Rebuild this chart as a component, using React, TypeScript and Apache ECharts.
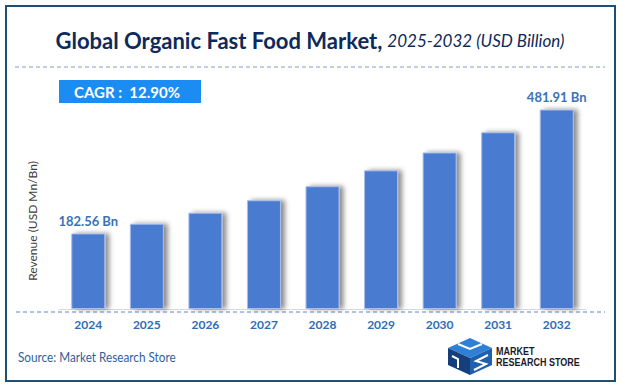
import React, { useEffect, useRef } from "react";
import * as echarts from "echarts";

const years = ["2024", "2025", "2026", "2027", "2028", "2029", "2030", "2031", "2032"];
const revenue = [182.56, 206.11, 232.7, 262.72, 296.61, 334.87, 378.07, 426.84, 481.91];
const titleMain = "Global Organic Fast Food Market,";
const titleSub = "2025-2032 (USD Billion)";
const cagrText = "CAGR :  12.90%";
const yAxisName = "Revenue (USD Mn/Bn)";
const sourceText = "Source: Market Research Store";

export default function App() {
  const ref = useRef<HTMLDivElement>(null);
  useEffect(() => {
    document.body.style.margin = "0";
    const chart = echarts.init(ref.current!, null, { renderer: "svg" });
    const last = revenue.length - 1;
    const font = "Lato, 'Open Sans', sans-serif";
    const logoFont = "'Liberation Sans', Arial, sans-serif";
    chart.setOption({
      animation: false,
      backgroundColor: "#ffffff",
      grid: { left: 59, right: 39, top: 102, bottom: 82 },
      xAxis: {
        type: "category",
        data: years,
        axisLine: { show: true, lineStyle: { color: "#d9d9d9", width: 1 } },
        axisTick: { show: false },
        axisLabel: { color: "#2e6db5", fontWeight: "bold", fontSize: 12, fontFamily: font, margin: 9 },
      },
      yAxis: {
        type: "value",
        min: 0,
        max: 500,
        show: false,
        splitLine: { show: false },
      },
      series: [
        {
          type: "bar",
          barWidth: 34,
          data: revenue.map((v, i) => ({
            value: v,
            label: { show: i === 0 || i === last },
          })),
          itemStyle: {
            color: "#4a7bd1",
            borderColor: "#a7bde8",
            borderWidth: 1,
            shadowColor: "rgba(0,0,0,0.45)",
            shadowBlur: 5,
            shadowOffsetX: 4,
            shadowOffsetY: 0,
          },
          label: {
            position: "top",
            distance: 6,
            color: "#3a72b8",
            fontWeight: "bold",
            fontSize: 13,
            fontFamily: font,
            formatter: (p: any) => `${Number(p.value).toFixed(2)} Bn`,
          },
        },
      ],
      graphic: [
        {
          type: "rect",
          shape: { x: 6, y: 6, width: 609, height: 375 },
          style: { fill: "none", stroke: "#1f4e79", lineWidth: 2 },
          silent: true,
        },
        {
          type: "text",
          x: 310,
          y: 40,
          style: {
            text: `{a|${titleMain}}{g| }{b|${titleSub}}`,
            align: "center",
            verticalAlign: "middle",
            rich: {
              a: { fontFamily: font, fontWeight: "bold", fontSize: 22, fill: "#0e2a5a" },
              g: { fontSize: 12, width: 5 },
              b: { fontFamily: font, fontStyle: "italic", fontSize: 17, fill: "#0e2a5a" },
            },
          },
        },
        {
          type: "line",
          shape: { x1: 15, y1: 67, x2: 605, y2: 67 },
          style: { stroke: "#7f9ed6", lineWidth: 1, lineDash: [4, 3] },
        },
        {
          type: "line",
          shape: { x1: 16, y1: 312, x2: 605, y2: 312 },
          style: { stroke: "#5b87cf", lineWidth: 1, lineDash: [4, 3] },
        },
        {
          type: "rect",
          shape: { x: 59, y: 80, width: 142, height: 23 },
          style: { fill: "#1b8cf2" },
        },
        {
          type: "text",
          x: 127,
          y: 92,
          style: {
            text: cagrText,
            align: "center",
            verticalAlign: "middle",
            fontFamily: font,
            fontWeight: "bold",
            fontSize: 15,
            fill: "#ffffff",
          },
        },
        {
          type: "text",
          x: 32,
          y: 221,
          rotation: Math.PI / 2,
          style: {
            text: yAxisName,
            align: "center",
            verticalAlign: "middle",
            fontFamily: font,
            fontSize: 12,
            fill: "#404040",
          },
        },
        {
          type: "text",
          x: 18,
          y: 357,
          scaleX: 0.84,
          style: {
            text: sourceText,
            align: "left",
            verticalAlign: "middle",
            fontFamily: font,
            fontSize: 14,
            fill: "#2f5f98",
          },
        },
        // logo icon
        {
          type: "polygon",
          shape: { points: [[470, 338], [492, 348], [470, 358], [448, 348]] },
          style: { fill: "#2e7fd6" },
        },
        {
          type: "polygon",
          shape: { points: [[448, 348], [470, 358], [470, 375], [448, 365]] },
          style: { fill: "#143f7a" },
        },
        {
          type: "polygon",
          shape: { points: [[470, 358], [492, 348], [492, 365], [470, 375]] },
          style: { fill: "#1f5fae" },
        },
        {
          type: "polyline",
          shape: { points: [[458, 344], [470, 349], [482, 344]] },
          style: { stroke: "#ffffff", lineWidth: 2, fill: "none" },
        },
        {
          type: "polyline",
          shape: { points: [[452, 356], [458, 359], [458, 368]] },
          style: { stroke: "#ffffff", lineWidth: 2, fill: "none" },
        },
        {
          type: "polyline",
          shape: { points: [[488, 355], [476, 361], [486, 364], [474, 370]] },
          style: { stroke: "#ffffff", lineWidth: 2, fill: "none" },
        },
        {
          type: "text",
          x: 496,
          y: 351,
          scaleX: 0.9,
          style: {
            text: "MARKET",
            align: "left",
            verticalAlign: "middle",
            fontFamily: logoFont,
            fontWeight: "bold",
            fontSize: 10,
            fill: "#1a1a2a",
          },
        },
        {
          type: "text",
          x: 496,
          y: 362,
          scaleX: 0.9,
          style: {
            text: "RESEARCH STORE",
            align: "left",
            verticalAlign: "middle",
            fontFamily: logoFont,
            fontWeight: "bold",
            fontSize: 10,
            fill: "#1a1a2a",
          },
        },
      ],
    });
    return () => chart.dispose();
  }, []);
  return <div ref={ref} style={{ width: 625, height: 391 }} />;
}
